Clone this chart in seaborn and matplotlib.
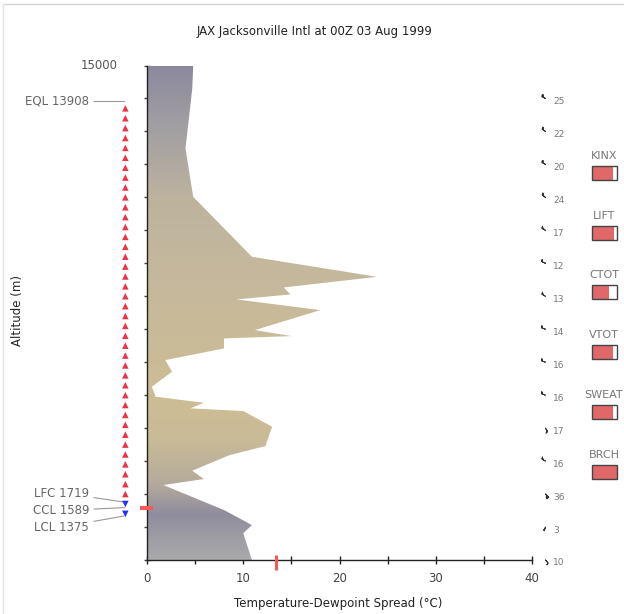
import numpy as np
import pandas as pd
import matplotlib
matplotlib.use("Agg")
import matplotlib.pyplot as plt
import seaborn as sns
from matplotlib.colors import LinearSegmentedColormap
from matplotlib.lines import Line2D

# ---------------- data ----------------
title = "JAX Jacksonville Intl at 00Z 03 Aug 1999"
altitude = [0, 810, 1060, 1516, 2274, 2456, 2709, 3184, 3456, 4042, 4518, 4599,
            4770, 4952, 5255, 5710, 6064, 6418, 6721, 6792, 6974, 7580, 7904,
            8055, 8267, 8590, 9197, 11016, 12483, 14300, 15000]
spread = [10.9, 10.0, 10.9, 8.0, 1.7, 5.9, 4.7, 8.6, 12.3, 13.0, 10.0, 4.5,
          5.9, 0.9, 0.5, 2.6, 1.9, 8.0, 8.0, 15.0, 11.2, 18.0, 9.3,
          14.9, 14.2, 23.9, 10.9, 4.8, 4.0, 4.7, 4.8]

parcel_alt = [1400, 1700, 2000, 2300, 2600, 2900, 3200, 3500, 3800, 4100,
              4400, 4700, 5000, 5300, 5600, 5900, 6200, 6500, 6800, 7100,
              7400, 7700, 8000, 8300, 8600, 8900, 9200, 9500, 9800, 10100,
              10400, 10700, 11000, 11300, 11600, 11900, 12200, 12500, 12800,
              13100, 13400, 13700]
parcel_state = ["stable" if a < 1719 else "buoyant" for a in parcel_alt]

levels = {"EQL": 13908, "LFC": 1719, "CCL": 1589, "LCL": 1375}
conv_temp = 13.4

wind_alt = [14000, 13000, 12000, 11000, 10000, 9000, 8000, 7000, 6000, 5000,
            4000, 3000, 2000, 1000, 0]
wind_speed = [25, 22, 20, 24, 17, 12, 13, 14, 16, 16, 17, 16, 36, 3, 10]
wind_dir = [300, 305, 300, 305, 300, 295, 300, 290, 290, 290,
            150, 300, 135, 200, 140]

index_names = ["KINX", "LIFT", "CTOT", "VTOT", "SWEAT", "BRCH"]
index_frac = [0.85, 0.88, 0.70, 0.84, 0.84, 1.0]

# ---------------- figure ----------------
sns.set_theme(style="white")
plt.rcParams["font.family"] = ["DejaVu Sans"]

W, H = 624, 614
fig = plt.figure(figsize=(W / 100, H / 100), dpi=100)
ax = fig.add_axes([147 / W, (H - 560) / H, 385 / W, 494.5 / H])

ax.set_xlim(0, 40)
ax.set_ylim(0, 15000)

# gradient fill of the profile
poly = ax.fill_betweenx(altitude, 0, spread, color="none", lw=0)
stops = [(0.0, "#a9a8aa"), (0.05, "#9c9aa3"), (0.09, "#8f8c9e"),
         (0.15, "#b3aa9c"), (0.24, "#c9bb97"), (0.33, "#cdbd94"),
         (0.55, "#c6b99c"), (0.73, "#bdb39e"), (0.87, "#a3a0a3"),
         (1.0, "#8c899e")]
cmap = LinearSegmentedColormap.from_list("prof", stops)
grad = np.linspace(0, 1, 400).reshape(-1, 1)
img = ax.imshow(grad, cmap=cmap, origin="lower", aspect="auto",
                extent=[0, 40, 0, 15000], zorder=1)
img.set_clip_path(poly.get_paths()[0], transform=ax.transData)
ax.set_xlim(0, 40)
ax.set_ylim(0, 15000)

# parcel markers
pdf = pd.DataFrame({"x": [-2.25] * len(parcel_alt), "alt": parcel_alt,
                    "state": parcel_state})
sns.scatterplot(data=pdf, x="x", y="alt", hue="state", style="state",
                markers={"buoyant": "^", "stable": "v"},
                palette={"buoyant": "#ee3344", "stable": "#2233ee"},
                s=22, linewidth=0, legend=False, ax=ax, clip_on=False, zorder=5)
ax.set_xlabel("")
ax.set_ylabel("")

grey = "#666666"
lc = "#999999"
# level annotations
ax.annotate(f"EQL {levels['EQL']}", xy=(-2.3, levels["EQL"]), xytext=(-6.0, levels["EQL"]),
            ha="right", va="center", fontsize=8.5, color=grey, annotation_clip=False,
            arrowprops=dict(arrowstyle="-", color=lc, lw=0.8, shrinkA=1, shrinkB=0))
ax.annotate(f"LFC {levels['LFC']}", xy=(-2.4, 1760), xytext=(-6.0, 2031),
            ha="right", va="center", fontsize=8.5, color=grey, annotation_clip=False,
            arrowprops=dict(arrowstyle="-", color=lc, lw=0.8, shrinkA=1, shrinkB=0))
ax.annotate(f"CCL {levels['CCL']}", xy=(-2.3, levels["CCL"]), xytext=(-6.0, 1500),
            ha="right", va="center", fontsize=8.5, color=grey, annotation_clip=False,
            arrowprops=dict(arrowstyle="-", color=lc, lw=0.8, shrinkA=1, shrinkB=0))
ax.annotate(f"LCL {levels['LCL']}", xy=(-2.4, 1334), xytext=(-6.0, 1000),
            ha="right", va="center", fontsize=8.5, color=grey, annotation_clip=False,
            arrowprops=dict(arrowstyle="-", color=lc, lw=0.8, shrinkA=1, shrinkB=0))

# CCL and convective temperature marks
ax.plot([-0.7, 0.65], [levels["CCL"], levels["CCL"]], color="#f05a5a", lw=3,
        solid_capstyle="butt", clip_on=False, zorder=6)
ax.plot([conv_temp, conv_temp], [-300, 160], color="#f05a5a", lw=2.2,
        solid_capstyle="butt", clip_on=False, zorder=6)

# axes styling
ax.set_xticks([0, 10, 20, 30, 40])
ax.set_xticks([5, 15, 25, 35], minor=True)
ax.set_yticks(np.arange(0, 15001, 1000))
ax.set_yticklabels([])
ax.tick_params(axis="x", which="both", direction="inout", length=6, width=1,
               color="#222222", labelsize=8.5, labelcolor="#444444", pad=6, bottom=True)
ax.tick_params(axis="y", which="both", direction="inout", length=5, width=1,
               color="#444444", left=True)
for s in ["top", "right"]:
    ax.spines[s].set_visible(False)
for s in ["left", "bottom"]:
    ax.spines[s].set_color("#222222")
    ax.spines[s].set_linewidth(1.0)
ax.text(-3.0, 15000, "15000", ha="right", va="center", fontsize=8.5, color="#555555")

fig.text(338 / W, 1 - 604 / H, "Temperature-Dewpoint Spread (°C)", ha="center",
         va="center", fontsize=8.5, color="#222222")
fig.text(18 / W, 1 - 310 / H, "Altitude (m)", ha="center", va="center",
         rotation=90, fontsize=8.5, color="#222222")
fig.text(315 / W, 1 - 31 / H, title, ha="center", va="center", fontsize=8.5,
         color="#222222")

# wind barbs
ws = np.array(wind_speed, dtype=float)
wd = np.radians(wind_dir)
u = -ws * np.sin(wd)
v = -ws * np.cos(wd)
ax.barbs([41.4] * len(wind_alt), wind_alt, u, v, length=2.4, linewidth=0.7,
         color="#333333", clip_on=False, zorder=6,
         sizes=dict(emptybarb=0.08, spacing=0.18, height=0.5, width=0.3))
for a, s in zip(wind_alt, wind_speed):
    ax.text(42.2, a - 90, str(s), ha="left", va="center", fontsize=6.5,
            color="#777777", clip_on=False)

# stability index boxes
for i, (name, frac) in enumerate(zip(index_names, index_frac)):
    yc = 156 + i * 59.7
    fig.text(604 / W, 1 - yc / H, name, ha="center", va="center", fontsize=8,
             color="#777777")
    bx, by, bw, bh = 591.5, yc + 10, 25.5, 14
    fig.patches.append(plt.Rectangle((bx / W, 1 - (by + bh) / H), bw * frac / W, bh / H,
                                     transform=fig.transFigure, facecolor="#e06868",
                                     edgecolor="none", zorder=3))
    fig.patches.append(plt.Rectangle((bx / W, 1 - (by + bh) / H), bw / W, bh / H,
                                     transform=fig.transFigure, facecolor="none",
                                     edgecolor="#444444", lw=1.0, zorder=4))

# frame lines
fig.add_artist(Line2D([3 / W, 1], [1 - 4 / H, 1 - 4 / H], color="#d4d4d4", lw=1))
fig.add_artist(Line2D([3 / W, 3 / W], [0, 1 - 4 / H], color="#e4e4e4", lw=1))

fig.savefig("out.png", dpi=100)
